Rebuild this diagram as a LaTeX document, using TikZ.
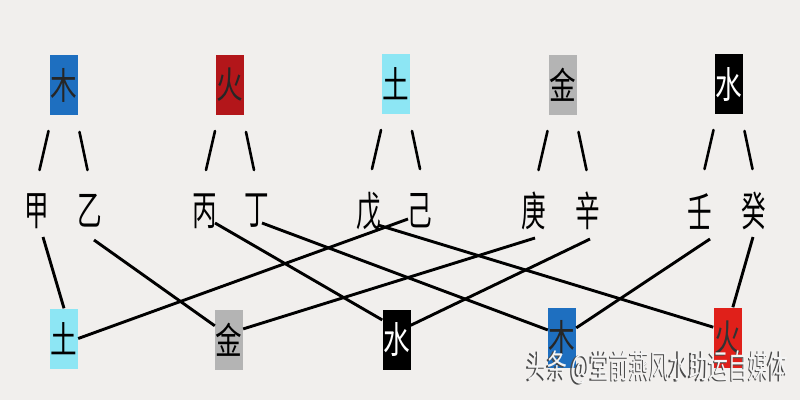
\documentclass[tikz,border=0pt]{standalone}
\usepackage{fontspec}
\newfontfamily\cjk{Noto Sans CJK SC}
\usetikzlibrary{calc}
\definecolor{bg}{HTML}{F1EFED}
\definecolor{mublue}{HTML}{1E6FC0}
\definecolor{huored}{HTML}{B3161A}
\definecolor{huoredb}{HTML}{E0201A}
\definecolor{tucyan}{HTML}{8DE6F4}
\definecolor{jingray}{HTML}{B4B4B4}
\definecolor{wmshadow}{HTML}{4A4A4A}
\definecolor{wmfill}{HTML}{F4F4F4}
\newcommand{\hsq}[1]{\scalebox{0.72}[1]{#1}}
\newcommand{\hsqs}[1]{\scalebox{0.6}[1]{#1}}
\newcommand{\wmtext}{头条 @堂前燕风水助运自媒体}
\tikzset{
  elem/.style={minimum width=28pt, minimum height=60pt, inner sep=0pt,
               font=\cjk\fontsize{37}{37}\selectfont},
  stem/.style={inner sep=0pt, font=\cjk\fontsize{41}{41}\selectfont},
  link/.style={line width=2.9pt, black},
  slash/.style={line width=2.6pt, black, line cap=round},
  wm/.style={inner sep=0pt, font=\cjk\fontsize{33}{33}\selectfont},
}
\begin{document}
\begin{tikzpicture}[x=1pt, y=-1pt]
\fill[bg] (0,0) rectangle (800,400);
\useasboundingbox (0,0) rectangle (800,400);

% top elements
\node[elem, fill=mublue, text=black!85] (t1) at (63.5,85) {\hsq{木}};
\node[elem, fill=huored, text=black!85] (t2) at (230,85) {\hsq{火}};
\node[elem, fill=tucyan, text=black] (t3) at (396,84) {\hsq{土}};
\node[elem, fill=jingray, text=black] (t4) at (562.5,85) {\hsq{金}};
\node[elem, fill=black, text=white] (t5) at (728.5,84) {\hsq{水}};

% stems
\node[stem] (c1) at (37,211) {\hsqs{甲}};
\node[stem] (c2) at (90,211) {\hsqs{乙}};
\node[stem] (c3) at (205,211) {\hsqs{丙}};
\node[stem] (c4) at (257,211) {\hsqs{丁}};
\node[stem] (c5) at (369,211) {\hsqs{戊}};
\node[stem] (c6) at (420,211) {\hsqs{己}};
\node[stem] (c7) at (534,211) {\hsqs{庚}};
\node[stem] (c8) at (588,211) {\hsqs{辛}};
\node[stem] (c9) at (700,211) {\hsqs{壬}};
\node[stem] (c10) at (754,211) {\hsqs{癸}};

% bottom elements
\node[elem, fill=tucyan, text=black] (b1) at (64,338.5) {\hsq{土}};
\node[elem, fill=jingray, text=black] (b2) at (229,340) {\hsq{金}};
\node[elem, fill=black, text=white] (b3) at (396.5,339.5) {\hsq{水}};
\node[elem, fill=mublue, text=black!85] (b4) at (562,337.5) {\hsq{木}};
\node[elem, fill=huoredb, text=black!80] (b5) at (727.5,337.5) {\hsq{火}};

% slashes under top elements
\foreach \n in {1,...,5}{
  \draw[slash] ([shift={(-15,46)}]t\n.center) -- ([shift={(-24,85)}]t\n.center);
  \draw[slash] ([shift={(16,47)}]t\n.center) -- ([shift={(24,85)}]t\n.center);
}

% combination lines
\draw[link] ([shift={(6,26)}]c1.center) -- (b1.north);
\draw[link] ([shift={(4,29)}]c2.center) -- (b2.135);
\draw[link] ([shift={(10,12)}]c3.center) -- (b3.126);
\draw[link] ([shift={(5,12)}]c4.center) -- (b4.152);
\draw[link] ([shift={(9,14)}]c5.center) -- (b5.144);
\draw[link] ([shift={(-12,8)}]c6.center) -- (b1.east);
\draw[link] ([shift={(1,27)}]c7.center) -- (b2.38);
\draw[link] ([shift={(2,28)}]c8.center) -- (b3.45);
\draw[link] ([shift={(10,28)}]c9.center) -- (b4.34);
\draw[link] ([shift={(-1,26)}]c10.center) -- (b5.80);

% watermark (shadowed text in one node)
\node[wm] (wm) at (657,368) {\hsqs{\makebox[0pt][l]{\textcolor{wmshadow}{\wmtext}}\kern2.5pt\raisebox{1.5pt}{\textcolor{wmfill}{\wmtext}}}};
\end{tikzpicture}
\end{document}
